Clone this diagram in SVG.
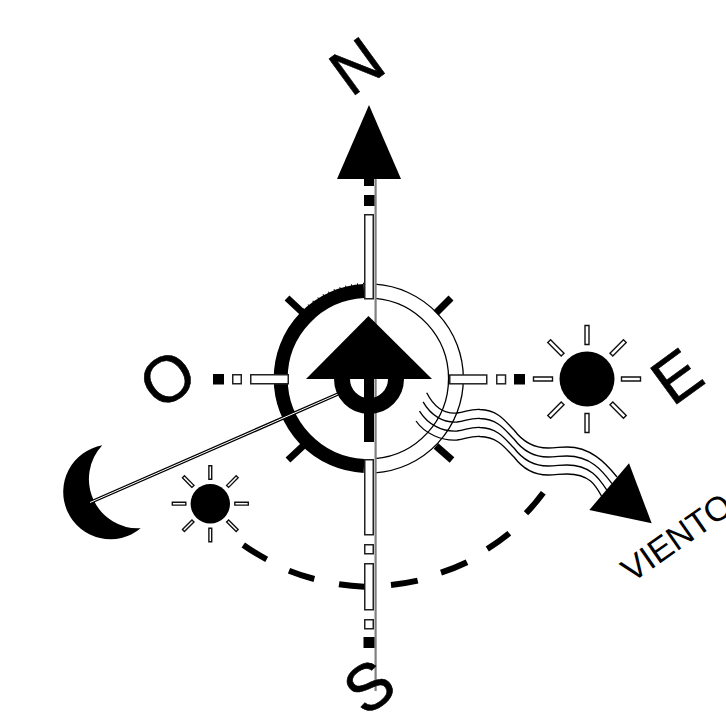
<svg xmlns="http://www.w3.org/2000/svg" width="726" height="716" viewBox="0 0 726 716">
<style>
.bar{fill:#fff;stroke:#222;stroke-width:1.5}
.blk{fill:#000}
.thin{fill:none;stroke:#000;stroke-width:1.3}
.lbl{font-family:"Liberation Sans",Arial,sans-serif;font-size:65px;fill:#000;stroke:#000;stroke-width:.6}
.ray{fill:#fff;stroke:#111;stroke-width:1.4;vector-effect:non-scaling-stroke}
</style>
<defs>
<g id="rays">
<rect class="ray" x="34.5" y="-2" width="19" height="4"/>
<rect class="ray" x="34.5" y="-2" width="19" height="4" transform="rotate(45)"/>
<rect class="ray" x="34.5" y="-2" width="19" height="4" transform="rotate(90)"/>
<rect class="ray" x="34.5" y="-2" width="19" height="4" transform="rotate(135)"/>
<rect class="ray" x="34.5" y="-2" width="19" height="4" transform="rotate(180)"/>
<rect class="ray" x="34.5" y="-2" width="19" height="4" transform="rotate(225)"/>
<rect class="ray" x="34.5" y="-2" width="19" height="4" transform="rotate(270)"/>
<rect class="ray" x="34.5" y="-2" width="19" height="4" transform="rotate(315)"/>
</g>
</defs>
<rect width="726" height="716" fill="#fff"/>
<g id="compass-ring">
<path class="thin" d="M375 284.200A94.500 94.500 0 0 1 375 472.800"/>
<path class="thin" d="M375 298.300A80.500 80.500 0 0 1 375 458.700"/>
<path d="M364 291.100A87.500 87.500 0 0 0 364 465.900" fill="none" stroke="#000" stroke-width="14"/>
<path d="M364 283.600A95 95 0 0 0 300 313" fill="none" stroke="#000" stroke-width="1.6" stroke-dasharray="1 5"/>
<g stroke="#000" stroke-width="7">
<line x1="287" y1="298" x2="302" y2="312"/>
<line x1="451" y1="298" x2="436" y2="313"/>
<line x1="288" y1="460" x2="303" y2="446"/>
<line x1="452" y1="460" x2="436" y2="446"/>
</g>
</g>
<g id="axis-north-south">
<line x1="375.6" y1="179" x2="375.6" y2="691" stroke="#808080" stroke-width="2.2"/>
<path class="blk" d="M369 105L401 179H337Z"/>
<rect class="blk" x="364" y="178" width="10" height="8"/>
<rect class="blk" x="364" y="195" width="10.500" height="11"/>
<rect class="bar" x="364.750" y="214.750" width="8.500" height="84"/>
<rect class="bar" x="364.750" y="459.750" width="8.500" height="75"/>
<rect class="bar" x="364.750" y="544.750" width="8.500" height="9"/>
<rect class="bar" x="364.750" y="563.750" width="8.500" height="46"/>
<rect class="bar" x="364.750" y="619.750" width="8.500" height="9"/>
<rect class="blk" x="363.500" y="637" width="11" height="11"/>
</g>
<g id="axis-west">
<rect class="bar" x="250.750" y="374.750" width="37.500" height="9"/>
<rect class="bar" x="232.750" y="374.750" width="8.500" height="9"/>
<rect class="blk" x="213" y="374" width="11" height="10.500"/>
</g>
<g id="axis-east">
<rect class="bar" x="449.750" y="375" width="37" height="8.800"/>
<rect class="bar" x="496.750" y="375" width="8.800" height="8.800"/>
<rect class="blk" x="514" y="374" width="11" height="10.500"/>
</g>
<g id="moon">
<path class="blk" d="M102.300 445.300A47.300 47.300 0 1 0 140.700 528.300A49.300 49.300 0 0 1 102.300 445.300Z"/>
<line x1="90" y1="502.500" x2="338" y2="394" stroke="#000" stroke-width="3.500"/>
<line x1="90" y1="502.500" x2="338" y2="394" stroke="#fff" stroke-width="1"/>
</g>
<g id="center-arrow">
<path d="M342 379A27 27 0 0 0 396 379" fill="none" stroke="#000" stroke-width="16"/>
<path class="blk" d="M368.500 316L432 379H306Z"/>
<rect class="blk" x="364" y="379" width="10" height="63"/>
</g>
<g id="sun-east">
<circle class="blk" cx="587" cy="379" r="27.500"/>
<use href="#rays" transform="translate(587 379)"/>
</g>
<g id="sun-west">
<circle class="blk" cx="210.300" cy="503.700" r="19.700"/>
<use href="#rays" transform="translate(210.300 503.700) scale(.71)"/>
</g>
<g id="connectors">
<g id="wind-lines" class="thin">
<path d="M426.700 392.700C434 407 445 414 457 413C466 412 470 409 480 409.500C500 410 507 424 514 430C523 442 535 448 548 448C556 448 560 447 567 447C590 447 605 462 617 477"/>
<path d="M423.100 401.900C431 416 444 423 457 422C466 421 470 418 480 418.500C500 419 507 433 514 439C523 451 535 457 548 457C556 457 560 456 567 456C590 456 602 470 612 483.700"/>
<path d="M419.500 411.100C428 425 443 432 457 431C466 430 470 427 480 427.500C500 428 507 442 514 448C523 460 535 466 548 466C556 466 560 465 567 465C590 465 599 478 607 490.400"/>
<path d="M416 421C425 434 442 441 457 440C466 439 470 436 480 436.500C500 437 507 451 514 457C523 469 535 475 548 475C556 475 560 474 567 474C590 474 596 486 602 497"/>
</g>
<g id="sun-path" fill="none" stroke="#000" stroke-width="6">
<path d="M243.300 545A208 208 0 0 0 266.700 559.300"/>
<path d="M289 570.700A208 208 0 0 0 314.300 579"/>
<path d="M339 584.300A208 208 0 0 0 364.300 586.700"/>
<path d="M391 585A208 208 0 0 0 417.700 580.700"/>
<path d="M441 572.700A208 208 0 0 0 467 562.300"/>
<path d="M487.300 549A208 208 0 0 0 509.300 533.300"/>
<path d="M526 513.300A208 208 0 0 0 543.300 492.700"/>
</g>
</g>
<g id="wind-arrow"><path class="blk" d="M629 463.300L651.700 523.300L589.300 510Z"/></g>
<g id="labels">
<text class="lbl" transform="translate(351 98) rotate(-36)">N</text>
<text class="lbl" transform="translate(672.600 407.300) rotate(-36)">E</text>
<text class="lbl" transform="translate(160.200 411.700) rotate(-36)">O</text>
<text class="lbl" transform="translate(364.700 717.600) rotate(-36)">S</text>
<text class="lbl" style="font-size:34px;stroke-width:0" transform="translate(631.700 583.200) rotate(-35)">VIENTO</text>
</g>
</svg>
